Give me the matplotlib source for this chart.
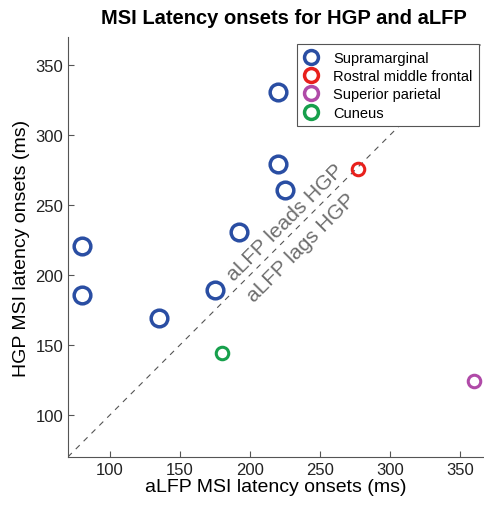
import matplotlib
matplotlib.use('Agg')
from matplotlib import pyplot as plt

plt.rcParams['font.family'] = ['Liberation Sans', 'DejaVu Sans']

# latency onsets (ms): aLFP on x, HGP on y
supra_x = [80, 80, 135, 175, 192, 220, 220, 225]
supra_y = [221, 186, 169, 189, 231, 331, 279, 261]
rmf_x = [277]
rmf_y = [276]
sp_x = [360]
sp_y = [124]
cun_x = [180]
cun_y = [144]

fig = plt.figure(figsize=(4.85, 5.06), dpi=100)
ax = fig.add_axes([0.140, 0.095, 0.858, 0.830])

# diagonal y = x
ax.plot([70, 370], [70, 370], linestyle=(0, (5, 5)), color='#555555', linewidth=0.8, zorder=1)

ax.plot(supra_x, supra_y, 'o', mfc='none', mec='#2a4ea3', mew=2.5, ms=12, label='Supramarginal', zorder=3)
ax.plot(rmf_x, rmf_y, 'o', mfc='none', mec='#e8201c', mew=2.2, ms=9, label='Rostral middle frontal', zorder=3)
ax.plot(sp_x, sp_y, 'o', mfc='none', mec='#b04aa8', mew=2.2, ms=9, label='Superior parietal', zorder=3)
ax.plot(cun_x, cun_y, 'o', mfc='none', mec='#17a04c', mew=2.2, ms=9, label='Cuneus', zorder=3)

ax.text(225, 238, 'aLFP leads HGP', rotation=45, ha='center', va='center', fontsize=15, color='#6e6e6e')
ax.text(237, 220, 'aLFP lags HGP', rotation=45, ha='center', va='center', fontsize=15, color='#6e6e6e')

ax.set_xlim(70, 367)
ax.set_ylim(70, 370)
ax.set_xticks([100, 150, 200, 250, 300, 350])
ax.set_yticks([100, 150, 200, 250, 300, 350])
ax.tick_params(direction='in', length=4, width=0.8, labelsize=12, colors='#555555', labelcolor='#222222')
for s in ['top', 'right']:
    ax.spines[s].set_visible(False)
for s in ['left', 'bottom']:
    ax.spines[s].set_color('#555555')

ax.set_xlabel('aLFP MSI latency onsets (ms)', fontsize=14, labelpad=1)
ax.set_ylabel('HGP MSI latency onsets (ms)', fontsize=14, labelpad=4)
ax.set_title('MSI Latency onsets for HGP and aLFP', fontsize=14.5, fontweight='bold', pad=10, x=0.52)

leg = ax.legend(loc='upper right', bbox_to_anchor=(0.995, 0.99), fontsize=10.5, frameon=True, fancybox=False,
                edgecolor='#555555', framealpha=1, handlelength=1.0, handletextpad=1.0, borderpad=0.45,
                labelspacing=0.3, markerscale=1.0, borderaxespad=0.2)
leg.get_frame().set_linewidth(0.8)
for h in leg.legend_handles:
    h.set_markersize(10)
    h.set_markeredgewidth(2.5)

fig.savefig('out.png', dpi=100)
